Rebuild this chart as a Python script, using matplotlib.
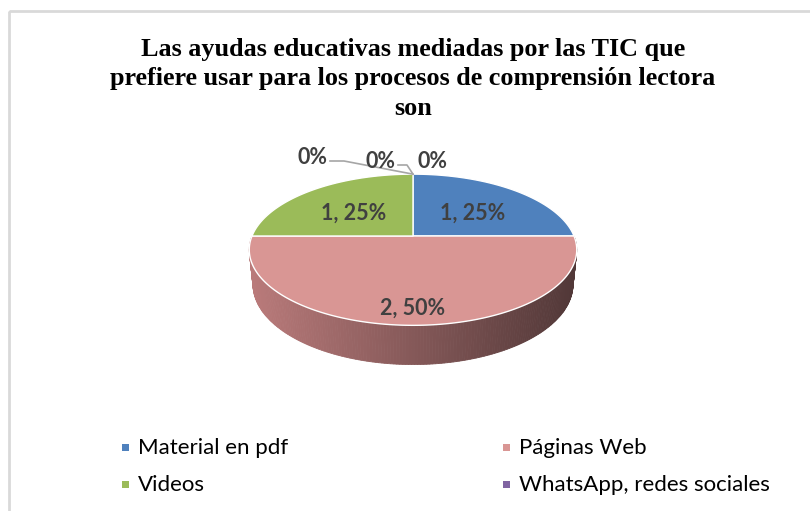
import numpy as np
import matplotlib.pyplot as plt
from matplotlib.patches import Polygon, Rectangle

# data
categorias = ["Material en pdf", "Páginas Web", "Videos", "WhatsApp, redes sociales", "", ""]
valores = [1, 2, 1, 0, 0, 0]
colores = ["#4f81bd", "#d99694", "#9bbb59", "#8064a2", "#f79646", "#4bacc6"]
titulo = "Las ayudas educativas mediadas por las TIC que\nprefiere usar para los procesos de comprensión lectora\nson"

fig = plt.figure(figsize=(8.1, 5.11), dpi=100)
ax = fig.add_axes([0, 0, 1, 1])
ax.set_xlim(0, 810)
ax.set_ylim(511, 0)
ax.axis("off")

# frame of the chart area
ax.add_patch(Rectangle((9, 11), 900, 600, fill=False, ec="#d9d9d9", lw=2))

ax.text(413, 79, titulo, ha="center", va="center", family="Liberation Serif",
        fontweight="bold", fontsize=18.8, linespacing=1.36, color="black")

# 3d pie geometry (perspective view of a disc)
cx, cy, R = 413, 236, 161
elev = np.radians(27)
s, c = np.sin(elev), np.cos(elev)
D = 4.9
h = 0.244


def proj(theta, z, r=1.0):
    X = r * np.sin(theta)
    Y = r * np.cos(theta)
    yc = Y * s + z * c
    zc = D + Y * c - z * s
    return cx + R * D * X / zc, cy - R * D * yc / zc


total = sum(valores)
fr = np.array(valores) / total
ends = np.cumsum(fr) * 2 * np.pi
starts = ends - fr * 2 * np.pi

# side walls (front half only), shaded left to right
left = np.array([185, 122, 122]) / 255
right = np.array([82, 56, 56]) / 255
for a0, a1 in zip(starts, ends):
    lo, hi = max(a0, np.pi / 2), min(a1, 3 * np.pi / 2)
    if hi <= lo:
        continue
    th = np.linspace(lo, hi, 200)
    for t0, t1 in zip(th[:-1], th[1:]):
        xa, ya = proj(t0, 0)
        xb, yb = proj(t1, 0)
        xd, yd = proj(t1, -h)
        xe, ye = proj(t0, -h)
        f = min(max((xa - (cx - R)) / (2 * R), 0), 1)
        cc = left * (1 - f) + right * f
        ax.add_patch(Polygon([(xa, ya), (xb, yb), (xd, yd), (xe, ye)],
                             closed=True, fc=cc, ec=cc, lw=0.6))

# top faces
for a0, a1, col in zip(starts, ends, colores):
    if a1 - a0 <= 0:
        continue
    th = np.linspace(a0, a1, 200)
    xs, ys = proj(th, 0)
    pts = [(cx, cy)] + list(zip(xs, ys))
    ax.add_patch(Polygon(pts, closed=True, fc=col, ec="white", lw=1.0, joinstyle="round"))

# data labels
lab_font = dict(family="Lato", fontweight="bold", fontsize=15.5, color="#404040",
                ha="center", va="center")
zero_pos = [(312, 158), (380, 161), (433, 161)]
k = 0
for a0, a1, v, p in zip(starts, ends, valores, fr):
    if v > 0:
        mid = (a0 + a1) / 2
        rr = 0.56 if p < 0.5 else 0.8
        lx, ly = proj(mid, 0, rr)
        ax.text(lx, ly + 4, f"{v}, {p * 100:.0f}%", **lab_font)
    else:
        x0, y0 = zero_pos[k]
        ax.text(x0, y0, "0%", **lab_font)
        tx, ty = proj(a0, 0)
        if k == 0:
            ax.plot([x0 + 18, x0 + 32, tx], [y0 + 3, y0 + 3, ty], color="#a6a6a6", lw=1.2)
        elif k == 1:
            ax.plot([x0 + 18, x0 + 27, tx], [y0 + 4, y0 + 4, ty], color="#a6a6a6", lw=1.2)
        k += 1

# legend (two columns, row-wise like the original)
leg_x = [122, 503]
leg_y = [448, 485]
for i in range(4):
    col_i, row_i = i % 2, i // 2
    x0, y0 = leg_x[col_i], leg_y[row_i]
    ax.add_patch(Rectangle((x0, y0 - 3.5), 7, 7, fc=colores[i], ec="none"))
    ax.text(x0 + 16, y0, categorias[i], family="Lato", fontsize=16, color="black",
            ha="left", va="center")

fig.savefig("out.png", dpi=100)
